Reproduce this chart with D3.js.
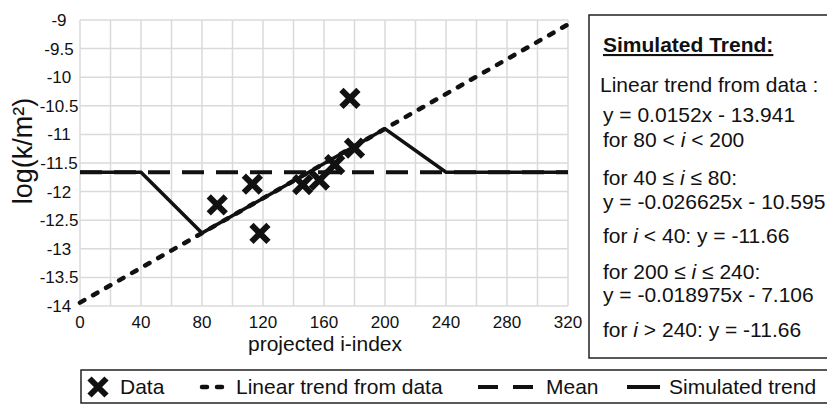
<!DOCTYPE html>
<html>
<head>
<meta charset="utf-8">
<script src="https://cdn.jsdelivr.net/npm/d3@7"></script>
<style>
  body { margin: 0; background: #fff; }
  svg { font-family: "Liberation Sans", Arial, sans-serif; }
</style>
</head>
<body>
<div id="chart"></div>
<script>
// measured points
const dataX = [90, 113, 118, 146, 157, 167, 177, 180];
const dataY = [-12.23, -11.87, -12.73, -11.88, -11.80, -11.53, -10.37, -11.24];

// linear trend y = 0.0152x - 13.941
const trendX = [0, 320];
const trendY = [-13.941, -9.077];

// mean
const meanX = [0, 320];
const meanY = [-11.66, -11.66];

// simulated trend, piecewise
const simX = [0, 40, 80, 200, 240, 320];
const simY = [-11.66, -11.66, -12.725, -10.901, -11.66, -11.66];

const xTicks = [0, 40, 80, 120, 160, 200, 240, 280, 320];
const yTicks = [-9, -9.5, -10, -10.5, -11, -11.5, -12, -12.5, -13, -13.5, -14];

const W = 827, H = 406;
const svg = d3.select('#chart').append('svg').attr('width', W).attr('height', H);

const x = d3.scaleLinear().domain([0, 320]).range([80, 568]);
const y = d3.scaleLinear().domain([-14, -9]).range([306, 20]);

// grid
const grid = svg.append('g').attr('stroke', '#dadada').attr('stroke-width', 1.5);
grid.selectAll('line.v').data(d3.range(0, 321, 20)).enter().append('line')
  .attr('x1', d => x(d)).attr('x2', d => x(d))
  .attr('y1', y(-9)).attr('y2', y(-14));
grid.selectAll('line.h').data(yTicks).enter().append('line')
  .attr('x1', x(0)).attr('x2', x(320))
  .attr('y1', d => y(d)).attr('y2', d => y(d));

// tick labels (y labels are centred, as in the source)
svg.selectAll('text.yt').data(yTicks).enter().append('text')
  .attr('x', 59).attr('y', d => y(d) + 6)
  .attr('text-anchor', 'middle').attr('font-size', '17px').attr('fill', '#111')
  .text(d => d);
svg.selectAll('text.xt').data(xTicks).enter().append('text')
  .attr('x', d => x(d)).attr('y', 328)
  .attr('text-anchor', 'middle').attr('font-size', '17px').attr('fill', '#111')
  .text(d => d);

svg.append('text').attr('x', 325).attr('y', 351).attr('text-anchor', 'middle')
  .attr('font-size', '21px').attr('fill', '#111').text('projected i-index');
svg.append('text').attr('transform', 'translate(32,151) rotate(-90)')
  .attr('text-anchor', 'middle').attr('font-size', '27px').attr('fill', '#111')
  .text('log(k/m²)');

const line = d3.line().x(d => x(d[0])).y(d => y(d[1]));

// mean
svg.append('path').datum(d3.zip(meanX, meanY)).attr('d', line)
  .attr('fill', 'none').attr('stroke', '#111').attr('stroke-width', 4)
  .attr('stroke-dasharray', '22,12');
// linear trend
svg.append('path').datum(d3.zip(trendX, trendY)).attr('d', line)
  .attr('fill', 'none').attr('stroke', '#111').attr('stroke-width', 4.5)
  .attr('stroke-linecap', 'round').attr('stroke-dasharray', '5,10');
// simulated trend
svg.append('path').datum(d3.zip(simX, simY)).attr('d', line)
  .attr('fill', 'none').attr('stroke', '#111').attr('stroke-width', 3.5)
  .attr('stroke-linejoin', 'miter');

// data markers
const cross = 'M-8.5,-8.5L8.5,8.5M-8.5,8.5L8.5,-8.5';
svg.selectAll('path.pt').data(d3.zip(dataX, dataY)).enter().append('path')
  .attr('transform', d => 'translate(' + x(d[0]) + ',' + y(d[1]) + ')')
  .attr('d', cross).attr('stroke', '#111').attr('stroke-width', 6).attr('fill', 'none');

// equation box
svg.append('rect').attr('x', 589).attr('y', 15).attr('width', 300).attr('height', 343)
  .attr('fill', 'none').attr('stroke', '#222').attr('stroke-width', 1.5);

const box = svg.append('g').attr('font-size', '21px').attr('fill', '#111');
box.append('text').attr('x', 603).attr('y', 52).attr('font-weight', 'bold')
  .attr('font-size', '21px').attr('text-decoration', 'underline').text('Simulated Trend:');

const boxLines = [
  [600, 92, ['Linear trend from data :']],
  [603, 122, ['y = 0.0152x - 13.941']],
  [603, 147, ['for 80 < ', ['i'], ' < 200']],
  [603, 185, ['for 40 ≤ ', ['i'], ' ≤ 80:']],
  [603, 209, ['y = -0.026625x - 10.595']],
  [603, 243, ['for ', ['i'], ' < 40: y = -11.66']],
  [603, 279, ['for 200 ≤ ', ['i'], ' ≤ 240:']],
  [603, 302, ['y = -0.018975x - 7.106']],
  [603, 337, ['for ', ['i'], ' > 240: y = -11.66']]
];
boxLines.forEach(l => {
  const t = box.append('text').attr('x', l[0]).attr('y', l[1]);
  l[2].forEach(part => {
    if (Array.isArray(part)) t.append('tspan').attr('font-style', 'italic').text(part[0]);
    else t.append('tspan').text(part);
  });
});

// legend
svg.append('rect').attr('x', 81).attr('y', 370).attr('width', 800).attr('height', 33)
  .attr('fill', 'none').attr('stroke', '#222').attr('stroke-width', 1.5);
const lg = svg.append('g');
lg.append('path').attr('transform', 'translate(98,387)').attr('d', cross)
  .attr('stroke', '#111').attr('stroke-width', 6);
lg.append('text').attr('x', 120).attr('y', 394).attr('font-size', '21px').attr('fill', '#111').text('Data');
lg.append('line').attr('x1', 202).attr('x2', 224).attr('y1', 387).attr('y2', 387)
  .attr('stroke', '#111').attr('stroke-width', 4.5).attr('stroke-linecap', 'round')
  .attr('stroke-dasharray', '5,10');
lg.append('text').attr('x', 236).attr('y', 394).attr('font-size', '21px').attr('fill', '#111').text('Linear trend from data');
lg.append('line').attr('x1', 478).attr('x2', 533).attr('y1', 387).attr('y2', 387)
  .attr('stroke', '#111').attr('stroke-width', 4).attr('stroke-dasharray', '20,15');
lg.append('text').attr('x', 546).attr('y', 394).attr('font-size', '21px').attr('fill', '#111').text('Mean');
lg.append('line').attr('x1', 627).attr('x2', 660).attr('y1', 387).attr('y2', 387)
  .attr('stroke', '#111').attr('stroke-width', 4);
lg.append('text').attr('x', 669).attr('y', 394).attr('font-size', '21px').attr('fill', '#111').text('Simulated trend');
</script>
</body>
</html>
